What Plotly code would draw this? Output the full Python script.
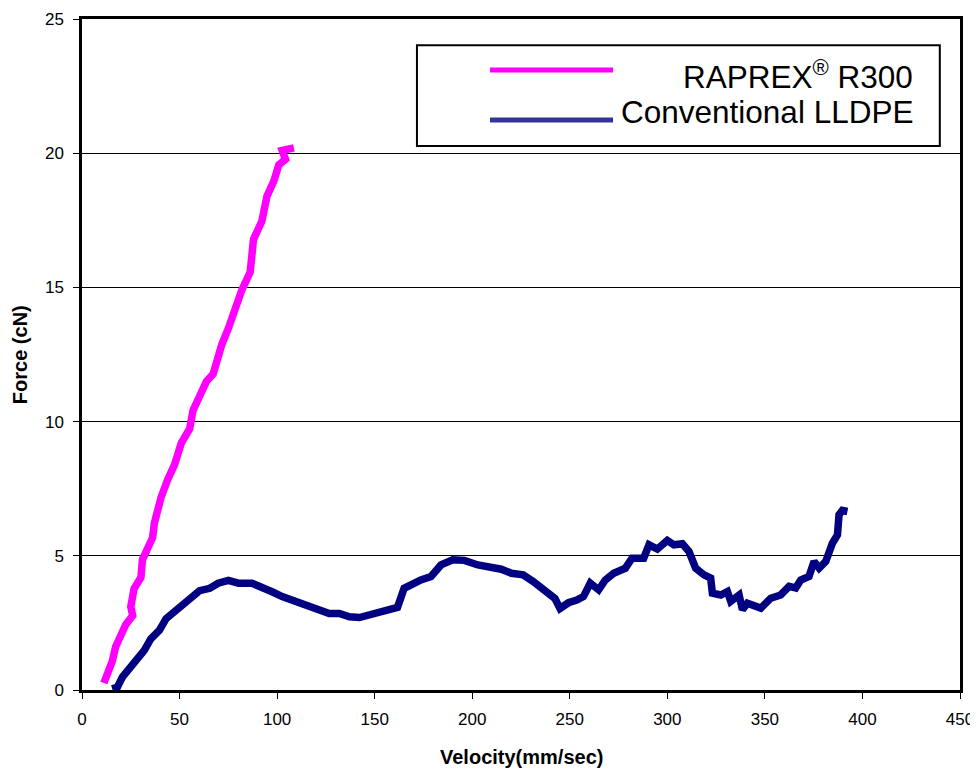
import plotly.graph_objects as go

# RAPREX R300 series
raprex_x = [11.2, 15.5, 17.2, 19.8, 22.4, 26.0, 25.0, 26.7, 30.2, 31.0, 32.8, 36.2, 37.1, 40.5, 44.0,
            47.4, 50.9, 55.2, 56.9, 60.3, 63.8, 67.2, 68.1, 71.6, 75.0, 78.4, 81.9, 86.2, 87.9, 92.2,
            94.8, 98.3, 100.9, 104.3, 102.6, 108.6]
raprex_y = [0.26, 1.07, 1.6, 2.08, 2.43, 2.77, 3.1, 3.78, 4.19, 4.86, 5.14, 5.68, 6.22, 7.17, 7.85,
            8.39, 9.2, 9.74, 10.42, 10.96, 11.5, 11.77, 12.05, 12.86, 13.47, 14.2, 14.9, 15.57, 16.79, 17.47,
            18.4, 18.96, 19.57, 19.77, 20.1, 20.2]

# Conventional LLDPE series
lldpe_x = [15.5, 18.1, 20.7, 24.1, 27.6, 31.9, 35.3, 39.7, 43.1, 47.4, 51.7, 56.0, 60.3, 65.5, 69.8,
           75.0, 80.2, 87.1, 92.2, 97.4, 102.6, 107.8, 112.9, 118.1, 121.6, 126.7, 131.9, 137.1, 142.2, 147.4,
           153.1, 157.4, 161.7, 165.1, 169.4, 173.7, 178.9, 184.0, 190.0, 196.0, 202.9, 209.8, 214.9, 220.1,
           226.1, 231.3, 237.3, 242.4, 245.0, 249.3, 253.6, 257.0, 260.5, 264.8, 268.2, 272.5, 278.5, 281.9,
           287.9, 290.6, 294.9, 300.0, 303.4, 307.7, 311.1, 314.5, 318.8, 322.2, 323.1, 327.4, 330.8, 332.5,
           336.8, 338.5, 341.0, 345.3, 347.9, 353.0, 358.1, 362.4, 365.8, 368.4, 372.6, 375.2, 377.8, 381.2,
           384.6, 387.2, 388.0, 389.7, 392.3]
lldpe_y = [0.04, 0.1, 0.48, 0.79, 1.1, 1.48, 1.91, 2.23, 2.66, 2.91, 3.23, 3.48, 3.7, 3.79, 3.98,
           4.08, 3.98, 3.98, 3.85, 3.66, 3.48, 3.35, 3.16, 3.08, 2.98, 2.85, 2.85, 2.73, 2.7, 2.79,
           2.95, 2.98, 3.08, 3.79, 3.98, 4.1, 4.23, 4.66, 4.85, 4.83, 4.66, 4.58, 4.5, 4.35,
           4.29, 4.04, 3.73, 3.41, 3.04, 3.25, 3.35, 3.48, 3.98, 3.73, 4.1, 4.35, 4.54, 4.91,
           4.91, 5.41, 5.25, 5.57, 5.41, 5.45, 5.16, 4.54, 4.29, 4.17, 3.61, 3.54, 3.67, 3.3,
           3.54, 2.99, 3.23, 3.11, 3.05, 3.42, 3.54, 3.86, 3.8, 4.1, 4.23, 4.79, 4.54, 4.79,
           5.47, 5.78, 6.53, 6.69, 6.65]

series_names = ["RAPREX<sup>®</sup> R300", "Conventional LLDPE"]
series_colors = ["#FF00FF", "#000080"]
legend_colors = ["#FF00FF", "#333399"]

x_ticks = [0, 50, 100, 150, 200, 250, 300, 350, 400, 450]
y_ticks = [0, 5, 10, 15, 20, 25]

FONT = "Liberation Sans, Arial, sans-serif"

fig = go.Figure()
fig.add_trace(go.Scatter(x=raprex_x, y=raprex_y, mode="lines", name=series_names[0],
                         line=dict(color=series_colors[0], width=7.5), showlegend=False))
fig.add_trace(go.Scatter(x=lldpe_x, y=lldpe_y, mode="lines", name=series_names[1],
                         line=dict(color=series_colors[1], width=7.5), showlegend=False))

fig.update_layout(
    width=970, height=761,
    margin=dict(l=74, r=18, t=11, b=79, autoexpand=False),
    paper_bgcolor="white", plot_bgcolor="white",
    font=dict(family=FONT, color="black", size=17),
    xaxis=dict(range=[0, 450], tickvals=x_ticks, showgrid=False, zeroline=False, automargin=False,
               showline=True, linecolor="black", linewidth=2.5, mirror=True,
               ticks="outside", ticklen=6, tickcolor="black", tickwidth=1,
               tickfont=dict(size=17, family=FONT), ticklabelstandoff=6),
    yaxis=dict(range=[0, 25], tickvals=y_ticks, showgrid=True, gridcolor="black", gridwidth=1,
               zeroline=False, automargin=False, showline=True, linecolor="black", linewidth=2.5, mirror=True,
               ticks="outside", ticklen=6, tickcolor="black", tickwidth=1,
               tickfont=dict(size=17, family=FONT), ticklabelstandoff=6),
)

# axis titles
fig.add_annotation(text="<b>Velocity(mm/sec)</b>", xref="paper", yref="paper", x=0.5, y=-0.1,
                   xanchor="center", yanchor="middle", showarrow=False, font=dict(size=20, family=FONT))
fig.add_annotation(text="<b>Force (cN)</b>", xref="paper", yref="paper", x=-0.071, y=0.5,
                   xanchor="center", yanchor="middle", textangle=-90, showarrow=False,
                   font=dict(size=20, family=FONT))

# legend box drawn manually
fig.add_shape(type="rect", xref="paper", yref="paper", x0=0.3815, x1=0.977, y0=0.8107, y1=0.961,
              line=dict(color="black", width=2), fillcolor="white", layer="above")
row_y = [0.924, 0.8495]
text_y = [0.9165, 0.861]
for i in range(2):
    fig.add_shape(type="line", xref="paper", yref="paper", x0=0.4647, x1=0.6048, y0=row_y[i], y1=row_y[i],
                  line=dict(color=legend_colors[i], width=5), layer="above")
    fig.add_annotation(text=series_names[i], xref="paper", yref="paper", x=0.9487, y=text_y[i],
                       xanchor="right", yanchor="middle", showarrow=False,
                       font=dict(size=31.5, family=FONT, color="black"))

fig.write_html("out.html")
